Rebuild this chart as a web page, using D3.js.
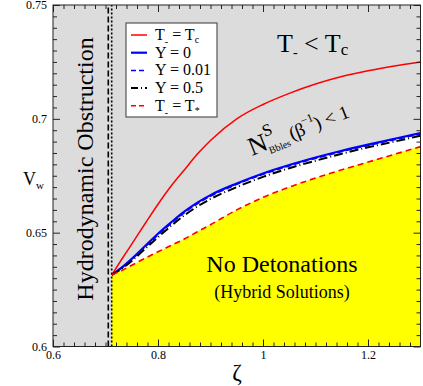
<!DOCTYPE html>
<html>
<head>
<meta charset="utf-8">
<script src="https://cdn.jsdelivr.net/npm/d3@7"></script>
<style>
  body { margin: 0; background: #fff; }
  svg { display: block; font-family: "Liberation Serif", "Times New Roman", serif; }
</style>
</head>
<body>
<svg id="chart"></svg>
<script>
// wall velocity bounds vs zeta
const zeta     = [0.712, 0.73, 0.75, 0.775, 0.80, 0.825, 0.85, 0.875, 0.90, 0.95, 1.00, 1.05, 1.10, 1.15, 1.20, 1.25, 1.30];
const tEqTc    = [0.6315, 0.6380, 0.6450, 0.6538, 0.6625, 0.6705, 0.6775, 0.6845, 0.6905, 0.7000, 0.7063, 0.7112, 0.7153, 0.7186, 0.7211, 0.7232, 0.7250];
const y0       = [0.6315, 0.6345, 0.6385, 0.6440, 0.6495, 0.6545, 0.6592, 0.6632, 0.6665, 0.6716, 0.6760, 0.6797, 0.6830, 0.6860, 0.6887, 0.6912, 0.6937];
const y001     = [0.6315, 0.6343, 0.6382, 0.6436, 0.6490, 0.6540, 0.6587, 0.6627, 0.6660, 0.6712, 0.6756, 0.6793, 0.6826, 0.6856, 0.6883, 0.6908, 0.6933];
const y05      = [0.6315, 0.6340, 0.6376, 0.6428, 0.6480, 0.6530, 0.6576, 0.6615, 0.6648, 0.6700, 0.6745, 0.6783, 0.6816, 0.6847, 0.6875, 0.6900, 0.6926];
const tEqTstar = [0.6315, 0.6333, 0.6357, 0.6387, 0.6416, 0.6444, 0.6472, 0.6504, 0.6535, 0.6600, 0.6655, 0.6700, 0.6740, 0.6776, 0.6810, 0.6844, 0.6878];

const obstructionZeta = 0.7053;  // dashed vertical
const detonationZeta = 0.7118;   // dotted vertical

const xTicks = [0.6, 0.8, 1, 1.2];
const yTicks = [0.6, 0.65, 0.7, 0.75];

const W = 423, H = 386;
const serif = "Liberation Serif, Times New Roman, serif";
const svg = d3.select("#chart").attr("width", W).attr("height", H);

const x = d3.scaleLinear().domain([0.6, 1.3]).range([53, 420.5]);
const y = d3.scaleLinear().domain([0.6, 0.75]).range([346.5, 5]);

const rows = zeta.map((z, i) => ({ z, tc: tEqTc[i], a: y0[i], b: y001[i], c: y05[i], ts: tEqTstar[i] }));

// background regions
svg.append("rect")
    .attr("x", x(0.6)).attr("y", y(0.75))
    .attr("width", x(1.3) - x(0.6)).attr("height", y(0.6) - y(0.75))
    .attr("fill", "#dcdcdc");

svg.append("path")
    .datum(rows)
    .attr("fill", "#ffffff")
    .attr("d", d3.area().x(d => x(d.z)).y0(d => y(d.ts)).y1(d => y(d.a)).curve(d3.curveMonotoneX));

svg.append("path")
    .datum(rows)
    .attr("fill", "#ffff00")
    .attr("d", d3.area().x(d => x(d.z)).y0(y(0.6)).y1(d => y(d.ts)).curve(d3.curveMonotoneX));

// vertical lines
svg.append("line")
    .attr("x1", x(obstructionZeta)).attr("x2", x(obstructionZeta))
    .attr("y1", y(0.6)).attr("y2", y(0.75))
    .attr("stroke", "#000").attr("stroke-width", 1.6).attr("stroke-dasharray", "6,3");
svg.append("line")
    .attr("x1", x(detonationZeta)).attr("x2", x(detonationZeta))
    .attr("y1", y(0.6)).attr("y2", y(0.75))
    .attr("stroke", "#000").attr("stroke-width", 1.6).attr("stroke-dasharray", "2,2");

// curves
const series = [
    { key: "tc", color: "#ff0000", width: 1.5, dash: null },
    { key: "a",  color: "#0000ff", width: 2.2, dash: null },
    { key: "b",  color: "#0000ff", width: 1.5, dash: "6,3" },
    { key: "c",  color: "#000000", width: 2,   dash: "9,3,1,3" },
    { key: "ts", color: "#ff0000", width: 1.6, dash: "6,4" }
];

series.forEach(s => {
    svg.append("path")
        .datum(rows)
        .attr("fill", "none")
        .attr("stroke", s.color)
        .attr("stroke-width", s.width)
        .attr("stroke-dasharray", s.dash)
        .attr("d", d3.line().x(d => x(d.z)).y(d => y(d[s.key])).curve(d3.curveMonotoneX));
});

// axes, ticks inward on all four sides
const fmt = d3.format("~g");
const xMinor = d3.range(0.62, 1.3, 0.02).filter(v => !xTicks.some(t => Math.abs(t - v) < 1e-6));
const yMinor = d3.range(0.605, 0.75, 0.005).filter(v => !yTicks.some(t => Math.abs(t - v) < 1e-6));

function styleAxis(g) {
    g.select(".domain").remove();
    g.selectAll("line").attr("stroke", "#222");
    g.attr("font-family", serif).attr("font-size", 12);
    g.selectAll("text").attr("fill", "#000").attr("font-family", serif);
}

svg.append("g").attr("transform", `translate(0,${y(0.6)})`)
    .call(d3.axisBottom(x).tickValues(xTicks).tickSize(-7).tickPadding(4).tickFormat(fmt)).call(styleAxis);
svg.append("g").attr("transform", `translate(0,${y(0.6)})`)
    .call(d3.axisBottom(x).tickValues(xMinor).tickSize(-4).tickFormat("")).call(styleAxis);
svg.append("g").attr("transform", `translate(0,${y(0.75)})`)
    .call(d3.axisTop(x).tickValues(xTicks).tickSize(-7).tickFormat("")).call(styleAxis);
svg.append("g").attr("transform", `translate(0,${y(0.75)})`)
    .call(d3.axisTop(x).tickValues(xMinor).tickSize(-4).tickFormat("")).call(styleAxis);

svg.append("g").attr("transform", `translate(${x(0.6)},0)`)
    .call(d3.axisLeft(y).tickValues(yTicks).tickSize(-7).tickPadding(6).tickFormat(fmt)).call(styleAxis);
svg.append("g").attr("transform", `translate(${x(0.6)},0)`)
    .call(d3.axisLeft(y).tickValues(yMinor).tickSize(-4).tickFormat("")).call(styleAxis);
svg.append("g").attr("transform", `translate(${x(1.3)},0)`)
    .call(d3.axisRight(y).tickValues(yTicks).tickSize(-7).tickFormat("")).call(styleAxis);
svg.append("g").attr("transform", `translate(${x(1.3)},0)`)
    .call(d3.axisRight(y).tickValues(yMinor).tickSize(-4).tickFormat("")).call(styleAxis);

svg.append("rect")
    .attr("x", x(0.6)).attr("y", y(0.75))
    .attr("width", x(1.3) - x(0.6)).attr("height", y(0.6) - y(0.75))
    .attr("fill", "none").attr("stroke", "#222").attr("stroke-width", 1);

// axis labels
svg.append("text").attr("x", 237).attr("y", 380).attr("text-anchor", "middle")
    .attr("font-size", 23).text("ζ");
const vw = svg.append("text").attr("x", 23).attr("y", 185).attr("font-size", 18);
vw.append("tspan").text("V");
vw.append("tspan").attr("font-size", 11).attr("dy", 4).text("w");

// region annotations
svg.append("text")
    .attr("transform", "translate(93,169) rotate(-90)")
    .attr("text-anchor", "middle").attr("font-size", 24)
    .text("Hydrodynamic Obstruction");

const tt = svg.append("text").attr("x", 277).attr("y", 52).attr("font-size", 26);
tt.append("tspan").text("T");
tt.append("tspan").attr("font-size", 14).attr("dy", 5).text("-");
tt.append("tspan").attr("dy", -5).text(" < T");
tt.append("tspan").attr("font-size", 17).attr("dy", 3).text("c");

const nb = svg.append("g").attr("transform", "translate(252,156) rotate(-21.7)");
nb.append("text").attr("x", 0).attr("y", 0).attr("font-size", 26).text("N");
nb.append("text").attr("x", 19).attr("y", -13).attr("font-size", 17).text("S");
nb.append("text").attr("x", 18).attr("y", 5).attr("font-size", 10).text("Bbles");
nb.append("text").attr("x", 43).attr("y", 0).attr("font-size", 19).text("(β");
nb.append("text").attr("x", 58).attr("y", -10).attr("font-size", 12).text("−1");
nb.append("text").attr("x", 70).attr("y", 0).attr("font-size", 19).text(") < 1");

svg.append("text").attr("x", 282).attr("y", 272).attr("text-anchor", "middle")
    .attr("font-size", 24).text("No Detonations");
svg.append("text").attr("x", 282).attr("y", 298).attr("text-anchor", "middle")
    .attr("font-size", 18).text("(Hybrid Solutions)");

// legend
const legendLabels = [
    [["T", 0], ["-", 1], [" = T", 0], ["c", 2]],
    [["Y = 0", 0]],
    [["Y = 0.01", 0]],
    [["Y = 0.5", 0]],
    [["T", 0], ["-", 1], [" = T", 0], ["*", 2]]
];
const legend = svg.append("g").attr("transform", "translate(126,23)");
legend.append("rect").attr("width", 91).attr("height", 94)
    .attr("fill", "#fff").attr("stroke", "#555").attr("stroke-width", 1.2);
series.forEach((s, i) => {
    const ry = 12 + i * 17.7;
    legend.append("line").attr("x1", 5).attr("x2", 21).attr("y1", ry).attr("y2", ry)
        .attr("stroke", s.color).attr("stroke-width", s.width)
        .attr("stroke-dasharray", s.dash ? (s.key === "c" ? "7,3,1,3" : "5,3") : null);
    const t = legend.append("text").attr("x", 29).attr("y", ry + 5).attr("font-size", 16);
    let cur = 0;
    legendLabels[i].forEach(([str, kind]) => {
        const target = kind === 1 ? 5 : kind === 2 ? 3 : 0;
        t.append("tspan")
            .attr("font-size", kind === 0 ? 16 : 10)
            .attr("dy", target - cur)
            .text(str);
        cur = target;
    });
});
</script>
</body>
</html>
